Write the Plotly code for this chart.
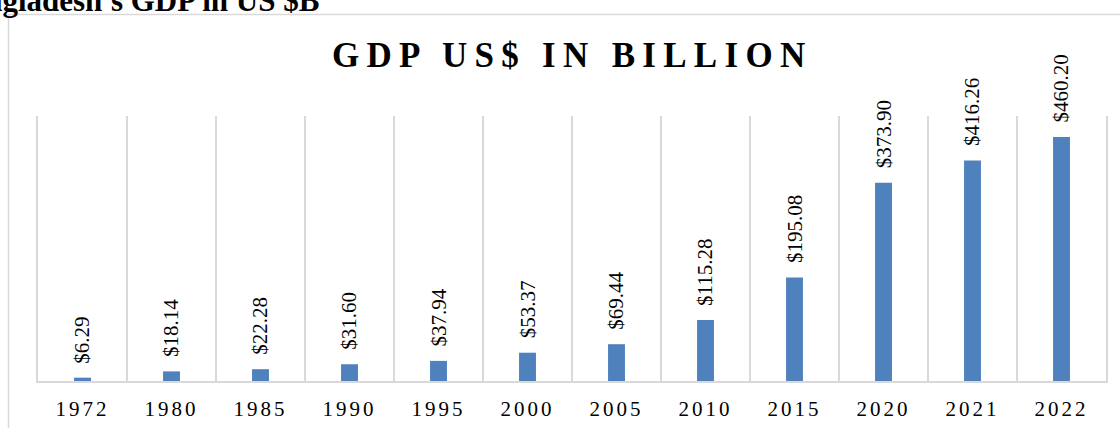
import plotly.graph_objects as go

# Bangladesh GDP, current US$ billion
years = ["1972", "1980", "1985", "1990", "1995", "2000", "2005", "2010", "2015", "2020", "2021", "2022"]
gdp_billion = [6.29, 18.14, 22.28, 31.60, 37.94, 53.37, 69.44, 115.28, 195.08, 373.90, 416.26, 460.20]

W, H = 1120, 428
L, R, T, B = 38, 14, 116, 47
PW, PH = W - L - R, H - T - B

def px_x(px):
    return (px - L) / PW

def px_y(py):
    return (H - B - py) / PH

SERIF = "Liberation Serif, Times New Roman, serif"
BAR = "#4F81BD"
GRID = "#D9D9D9"

pos = list(range(len(years)))
# category boundaries carry the vertical grid lines
bounds = [i - 0.5 for i in range(len(years) + 1)]

fig = go.Figure()
fig.add_trace(go.Bar(
    x=pos, y=gdp_billion,
    marker=dict(color=BAR, line=dict(width=0)),
    customdata=years,
    hovertemplate="%{customdata}: $%{y:.2f}B<extra></extra>",
))

# rotated value labels above each bar
for i, v in zip(pos, gdp_billion):
    fig.add_annotation(
        x=i, y=v, xref="x", yref="y",
        text=f"${v:.2f}", textangle=-90,
        showarrow=False, xanchor="center", yanchor="bottom", yshift=12,
        font=dict(family=SERIF, size=21, color="#000000"),
    )

# chart title
fig.add_annotation(
    x=px_x(572), y=px_y(55.5), xref="paper", yref="paper",
    text='<span style="letter-spacing:7.3px">GDP US$ IN BILLION</span>',
    showarrow=False, xanchor="center", yanchor="middle",
    font=dict(family=SERIF, size=35, color="#000000", weight="bold"),
)

# heading above the chart frame
fig.add_annotation(
    x=px_x(-53), y=px_y(20), xref="paper", yref="paper",
    text="Bangladesh's GDP in US $B",
    showarrow=False, xanchor="left", yanchor="bottom",
    font=dict(family=SERIF, size=31, color="#000000", weight="bold"),
)

# chart frame
fig.add_shape(
    type="rect", xref="paper", yref="paper",
    x0=px_x(8.5), x1=px_x(1130), y0=px_y(440), y1=px_y(14.5),
    line=dict(color=GRID, width=1.5), fillcolor="rgba(0,0,0,0)", layer="below",
)

fig.update_layout(
    width=W, height=H,
    margin=dict(l=L, r=R, t=T, b=B, pad=0, autoexpand=False),
    paper_bgcolor="#FFFFFF", plot_bgcolor="#FFFFFF",
    bargap=0.81, showlegend=False,
    xaxis=dict(
        range=[-0.5, len(years) - 0.5], autorange=False,
        ticks="", showgrid=False,
        showline=True, linecolor=GRID, linewidth=2, zeroline=False,
        tickmode="array", tickvals=pos,
        ticktext=[f'<span style="letter-spacing:3px">{y}</span>' for y in years],
        tickangle=0, automargin=False,
        tickfont=dict(family=SERIF, size=21, color="#000000"),
        ticklabelstandoff=8,
        minor=dict(tickmode="array", tickvals=bounds, ticks="",
                   showgrid=True, gridcolor=GRID, gridwidth=1.5),
        fixedrange=True,
    ),
    yaxis=dict(
        range=[0, 500], autorange=False, showgrid=False, zeroline=False,
        showticklabels=False, ticks="", automargin=False,
        showline=True, mirror=True, linecolor=GRID, linewidth=1.5,
        fixedrange=True,
    ),
)

fig.write_html("out.html")
